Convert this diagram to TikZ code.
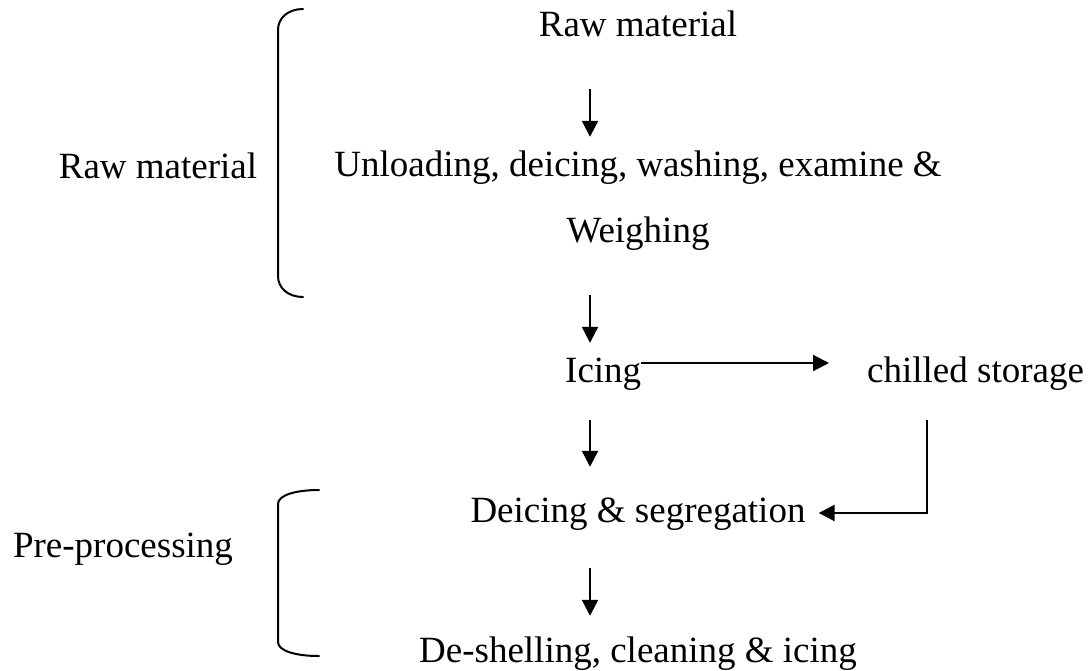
\documentclass[tikz,border=0pt]{standalone}
\usepackage{fontspec}
\setmainfont{Liberation Serif}
\usetikzlibrary{arrows.meta}
\begin{document}
\begin{tikzpicture}[x=1pt,y=-1pt,
  lbl/.style={inner sep=0pt, text height=26pt, text depth=8pt, anchor=base},
  lblw/.style={lbl, anchor=base west},
  arr/.style={line width=2.2pt, -{Triangle[length=16pt,width=16pt]}},
  brace/.style={line width=2pt, line cap=round},
  font=\fontsize{37}{44}\selectfont]
\useasboundingbox (0,0) rectangle (1090,670);
% column coordinates
\coordinate (ax) at (590,0);
\coordinate (lx) at (927,0);
% nodes
\node[lbl]  (raw)   at (638,36)  {Raw material};
\node[lbl]  (unl)   at (638,176) {Unloading, deicing, washing, examine \&};
\node[lbl]  (wei)   at (638,242) {Weighing};
\node[lblw] (icing) at (565,382) {Icing};
\node[lblw] (chill) at (867,382) {chilled storage};
\node[lbl]  (deic)  at (638,522) {Deicing \& segregation};
\node[lbl]  (desh)  at (638,662) {De-shelling, cleaning \& icing};
\node[lbl]  (lraw)  at (158,178) {Raw material};
\node[lbl]  (pre)   at (123,557) {Pre-processing};
% vertical arrows
\draw[arr, shorten <=45pt, shorten >=13pt] (raw.south -| ax) -- (unl.north -| ax);
\draw[arr, shorten <=45pt, shorten >=13pt] (wei.south -| ax) -- (icing.north -| ax);
\draw[arr, shorten <=30pt, shorten >=29pt] (icing.south -| ax) -- (deic.north -| ax);
\draw[arr, shorten <=38pt, shorten >=20pt] (deic.south -| ax) -- (desh.north -| ax);
% icing -> chilled storage
\draw[arr, shorten >=38pt] ([yshift=10pt]icing.east) -- ([yshift=10pt]chill.west);
% chilled storage -> deicing
\draw[arr, shorten <=30pt, shorten >=13pt] (chill.south -| lx) |- (deic.east);
% braces
\draw[brace] (303,9) .. controls (288,9) and (278,18) .. (278,30) -- (278,276)
  .. controls (278,288) and (288,297) .. (303,297);
\draw[brace] (319,490) .. controls (296,490) and (278,495) .. (278,504) -- (278,642)
  .. controls (278,651) and (296,656) .. (319,656);
\end{tikzpicture}
\end{document}
